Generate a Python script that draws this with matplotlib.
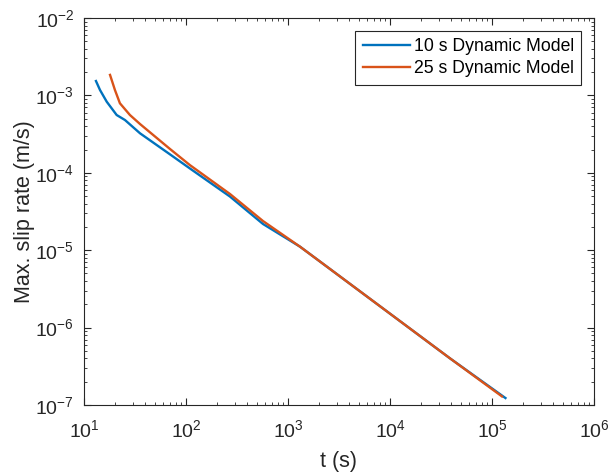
import matplotlib
matplotlib.use('Agg')
import matplotlib.pyplot as plt
import numpy as np

plt.rcParams['font.family'] = ['Liberation Sans', 'DejaVu Sans']
plt.rcParams['mathtext.default'] = 'regular'

# datos (t en s, velocidad en m/s)
t_10 = [13.1, 14.35, 16.7, 20.9, 25.2, 35.4, 69.7, 109, 270, 569, 1312, 2061, 4055, 10230, 38700, 135500]
v_10 = [1.534e-3, 1.175e-3, 8.29e-4, 5.58e-4, 4.81e-4, 3.24e-4, 1.73e-4, 1.14e-4, 4.93e-5, 2.18e-5,
        1.11e-5, 7.13e-6, 3.67e-6, 1.48e-6, 4.01e-7, 1.23e-7]

t_25 = [18.0, 20.1, 22.5, 28.2, 35.4, 69.7, 109, 270, 569, 1312, 2061, 4055, 10230, 38700, 125300]
v_25 = [1.84e-3, 1.175e-3, 7.91e-4, 5.58e-4, 4.27e-4, 2.03e-4, 1.26e-4, 5.32e-5, 2.38e-5,
        1.11e-5, 7.13e-6, 3.67e-6, 1.48e-6, 4.01e-7, 1.29e-7]

gris = '#262626'

fig = plt.figure(figsize=(6.11, 4.74), dpi=100)
ax = fig.add_axes([84 / 611, 69 / 474, 510 / 611, 387 / 474])

ax.loglog(t_10, v_10, color='#0072BD', lw=1.7, label='10 s Dynamic Model')
ax.loglog(t_25, v_25, color='#D95319', lw=1.7, label='25 s Dynamic Model')

ax.set_xlim(1e1, 1e6)
ax.set_ylim(1e-7, 1e-2)
ax.set_xlabel('t (s)', fontsize=15.5, color=gris, labelpad=7)
ax.set_ylabel('Max. slip rate (m/s)', fontsize=15.5, color=gris, labelpad=0)

ax.tick_params(which='both', direction='in', top=True, right=True, colors=gris, labelsize=14)
ax.tick_params(axis='x', which='major', pad=10)
ax.tick_params(axis='y', which='major', pad=7)
ax.tick_params(which='major', length=5)
ax.tick_params(which='minor', length=2.5)
for s in ax.spines.values():
    s.set_color(gris)
    s.set_linewidth(0.8)

leg = ax.legend(loc='upper right', fontsize=12.7, fancybox=False, edgecolor=gris,
                framealpha=1, handlelength=2.7, handletextpad=0.2, borderpad=0.42,
                labelspacing=0.3, borderaxespad=0.72)
leg.get_frame().set_linewidth(0.8)
for tx in leg.get_texts():
    tx.set_color('black')

plt.savefig('out.png', dpi=100)
